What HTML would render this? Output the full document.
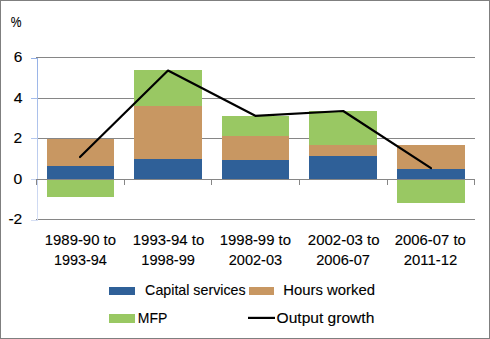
<!DOCTYPE html>
<html><head><meta charset="utf-8"><style>
html,body{margin:0;padding:0;background:#fff;width:490px;height:339px;overflow:hidden}
svg{display:block}
text{font-family:"Liberation Sans",sans-serif;stroke:#000;stroke-width:0.12px}
polyline{shape-rendering:geometricPrecision}
</style></head><body>
<svg width="490" height="339" viewBox="0 0 490 339" shape-rendering="crispEdges"><defs>
<linearGradient id="ax" gradientUnits="userSpaceOnUse" x1="0" y1="57" x2="0" y2="221"><stop offset="0" stop-color="#94B0E6"/><stop offset="1" stop-color="#D6DFF4"/></linearGradient>
<linearGradient id="tk" x1="0" y1="0" x2="1" y2="0"><stop offset="0" stop-color="#B8C9EE"/><stop offset="1" stop-color="#9DB6E8"/></linearGradient>
</defs><rect x="0" y="0" width="490" height="339" fill="#fff"/>
<rect x="36" y="57" width="439" height="1" fill="#868686"/>
<rect x="36" y="98" width="439" height="1" fill="#868686"/>
<rect x="36" y="138" width="439" height="1" fill="#868686"/>
<rect x="36" y="219" width="439" height="1" fill="#868686"/>
<rect x="37" y="58" width="1" height="163" fill="url(#ax)"/>
<rect x="31" y="58" width="6" height="1" fill="url(#ax)"/>
<rect x="31" y="98" width="6" height="1" fill="url(#ax)"/>
<rect x="31" y="138" width="6" height="1" fill="url(#ax)"/>
<rect x="31" y="179" width="6" height="1" fill="url(#ax)"/>
<rect x="31" y="220" width="6" height="1" fill="url(#ax)"/>
<rect x="47" y="166" width="67" height="13" fill="#2F6098"/>
<rect x="47" y="139" width="67" height="27" fill="#C89762"/>
<rect x="47" y="180" width="67" height="17" fill="#99C863"/>
<rect x="134" y="159" width="68" height="20" fill="#2F6098"/>
<rect x="134" y="106" width="68" height="53" fill="#C89762"/>
<rect x="134" y="70" width="68" height="36" fill="#99C863"/>
<rect x="222" y="160" width="67" height="19" fill="#2F6098"/>
<rect x="222" y="136" width="67" height="24" fill="#C89762"/>
<rect x="222" y="116" width="67" height="20" fill="#99C863"/>
<rect x="309" y="156" width="68" height="23" fill="#2F6098"/>
<rect x="309" y="145" width="68" height="11" fill="#C89762"/>
<rect x="309" y="111" width="68" height="34" fill="#99C863"/>
<rect x="397" y="169" width="68" height="10" fill="#2F6098"/>
<rect x="397" y="145" width="68" height="24" fill="#C89762"/>
<rect x="397" y="180" width="68" height="23" fill="#99C863"/>
<rect x="36" y="179" width="439" height="1" fill="#868686"/>
<rect x="36" y="179" width="1" height="6" fill="#868686"/>
<rect x="124" y="179" width="1" height="6" fill="#868686"/>
<rect x="211" y="179" width="1" height="6" fill="#868686"/>
<rect x="299" y="179" width="1" height="6" fill="#868686"/>
<rect x="387" y="179" width="1" height="6" fill="#868686"/>
<rect x="474" y="179" width="1" height="6" fill="#868686"/>
<polyline fill="none" stroke="#000" stroke-width="2.2" stroke-linejoin="round" stroke-linecap="round" points="80,157 168,70.5 255.3,115.8 343.2,111 431,168.1"/>
<text x="10.86" y="27" textLength="10.74" lengthAdjust="spacingAndGlyphs" font-size="14.5" fill="#000">%</text>
<text x="13.65" y="62" textLength="8.59" lengthAdjust="spacingAndGlyphs" font-size="14.5" fill="#000">6</text>
<text x="13.67" y="103" textLength="8.78" lengthAdjust="spacingAndGlyphs" font-size="14.5" fill="#000">4</text>
<text x="13.59" y="143" textLength="8.67" lengthAdjust="spacingAndGlyphs" font-size="14.5" fill="#000">2</text>
<text x="13.45" y="183.5" textLength="8.74" lengthAdjust="spacingAndGlyphs" font-size="14.5" fill="#000">0</text>
<text x="8.40" y="224" textLength="13.93" lengthAdjust="spacingAndGlyphs" font-size="14.5" fill="#000">-2</text>
<text x="44.80" y="245" textLength="71.18" lengthAdjust="spacingAndGlyphs" font-size="14.5" fill="#000">1989-90 to</text>
<text x="53.88" y="265" textLength="52.98" lengthAdjust="spacingAndGlyphs" font-size="14.5" fill="#000">1993-94</text>
<text x="132.80" y="245" textLength="71.44" lengthAdjust="spacingAndGlyphs" font-size="14.5" fill="#000">1993-94 to</text>
<text x="141.27" y="265" textLength="53.76" lengthAdjust="spacingAndGlyphs" font-size="14.5" fill="#000">1998-99</text>
<text x="219.80" y="245" textLength="71.18" lengthAdjust="spacingAndGlyphs" font-size="14.5" fill="#000">1998-99 to</text>
<text x="228.80" y="265" textLength="53.30" lengthAdjust="spacingAndGlyphs" font-size="14.5" fill="#000">2002-03</text>
<text x="307.87" y="245" textLength="71.65" lengthAdjust="spacingAndGlyphs" font-size="14.5" fill="#000">2002-03 to</text>
<text x="316.19" y="265" textLength="53.83" lengthAdjust="spacingAndGlyphs" font-size="14.5" fill="#000">2006-07</text>
<text x="394.86" y="245" textLength="70.97" lengthAdjust="spacingAndGlyphs" font-size="14.5" fill="#000">2006-07 to</text>
<text x="403.80" y="265" textLength="53.51" lengthAdjust="spacingAndGlyphs" font-size="14.5" fill="#000">2011-12</text>
<text x="145.12" y="294.5" textLength="100.46" lengthAdjust="spacingAndGlyphs" font-size="14.5" fill="#000">Capital services</text>
<text x="283.37" y="294.5" textLength="91.61" lengthAdjust="spacingAndGlyphs" font-size="14.5" fill="#000">Hours worked</text>
<text x="137.81" y="322.7" textLength="29.51" lengthAdjust="spacingAndGlyphs" font-size="14.5" fill="#000">MFP</text>
<text x="276.54" y="322.7" textLength="97.82" lengthAdjust="spacingAndGlyphs" font-size="14.5" fill="#000">Output growth</text>
<rect x="109" y="287" width="26" height="8" fill="#2F6098"/>
<rect x="249" y="287" width="25" height="8" fill="#C89762"/>
<rect x="109" y="314" width="26" height="9" fill="#99C863"/>
<line x1="248" y1="317.9" x2="275" y2="317.9" stroke="#000" stroke-width="2.2" style="shape-rendering:geometricPrecision"/>
<rect x="0.5" y="0.5" width="489" height="338" fill="none" stroke="#7F7F7F" stroke-width="1"/></svg>
</body></html>
